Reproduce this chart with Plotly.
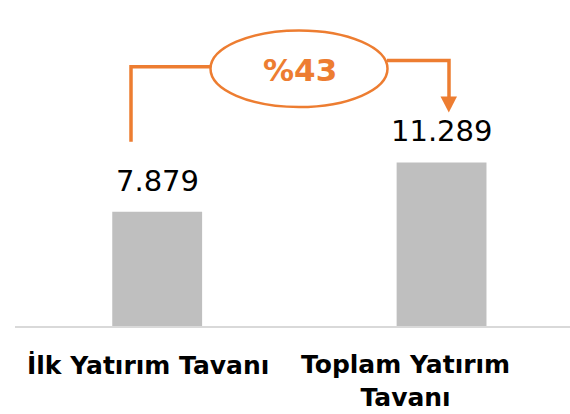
import plotly.graph_objects as go

categories = ["İlk Yatırım Tavanı", "Toplam Yatırım<br>Tavanı"]
values = [7879, 11289]

ORANGE = "#ED7D31"
W, H = 570, 414
ML, MR, MT, MB = 15, 0, 0, 88
PW, PH = W - ML - MR, H - MT - MB


def px(x):
    return (x - ML) / PW


def py(y):
    return (H - MB - y) / PH


def fmt(v):
    return f"{v:,}".replace(",", ".")


fig = go.Figure()
fig.add_trace(go.Bar(
    x=[0, 1], y=values, width=0.316,
    marker=dict(color="#bfbfbf", line=dict(width=0)),
    hoverinfo="skip",
))

ann = []
for i, v in enumerate(values):
    ann.append(dict(x=i, y=v, xref="x", yref="y", text=fmt(v), showarrow=False,
                    yanchor="bottom", yshift=12,
                    font=dict(family="DejaVu Sans", size=29, color="#000000")))
shifts = [-9, -36]
for i, c in enumerate(categories):
    ann.append(dict(x=i, y=0, xref="x", yref="paper", text=f"<b>{c}</b>", showarrow=False,
                    yanchor="top", yshift=-22, xshift=shifts[i],
                    font=dict(family="DejaVu Sans", size=25, color="#000000"),
                    align="center"))

pct = round((values[1] / values[0] - 1) * 100)
ann.append(dict(x=px(300), y=py(70), xref="paper", yref="paper", text=f"<b>%{pct}</b>",
                showarrow=False, xanchor="center", yanchor="middle",
                font=dict(family="DejaVu Sans", size=31, color=ORANGE)))

shapes = [
    dict(type="path", xref="paper", yref="paper",
         path=f"M {px(131)},{py(141.7)} L {px(131)},{py(66.7)} L {px(211)},{py(66.7)}",
         line=dict(color=ORANGE, width=3.5)),
    dict(type="path", xref="paper", yref="paper",
         path=f"M {px(387)},{py(60.5)} L {px(449)},{py(60.5)} L {px(449)},{py(98)}",
         line=dict(color=ORANGE, width=3.5)),
    dict(type="path", xref="paper", yref="paper",
         path=f"M {px(440.5)},{py(96.5)} L {px(457)},{py(96.5)} L {px(448.8)},{py(112.5)} Z",
         fillcolor=ORANGE, line=dict(color=ORANGE, width=0)),
    dict(type="circle", xref="paper", yref="paper",
         x0=px(210.5), x1=px(387.5), y0=py(107), y1=py(30.5),
         fillcolor="white", line=dict(color=ORANGE, width=2.5)),
]

fig.update_layout(
    width=W, height=H,
    margin=dict(l=ML, r=MR, t=MT, b=MB),
    paper_bgcolor="white", plot_bgcolor="white",
    showlegend=False,
    xaxis=dict(range=[-0.5, 1 + (W - MR - 441.5) / 284.5], showticklabels=False,
               showgrid=False, zeroline=False, showline=True,
               linecolor="#d9d9d9", linewidth=2, ticks=""),
    yaxis=dict(range=[0, 22500], visible=False, showgrid=False, zeroline=False),
    annotations=ann, shapes=shapes,
)

fig.write_html("out.html", config={"displayModeBar": False},
               post_script="document.body.style.margin='0';document.body.style.overflow='hidden';")
